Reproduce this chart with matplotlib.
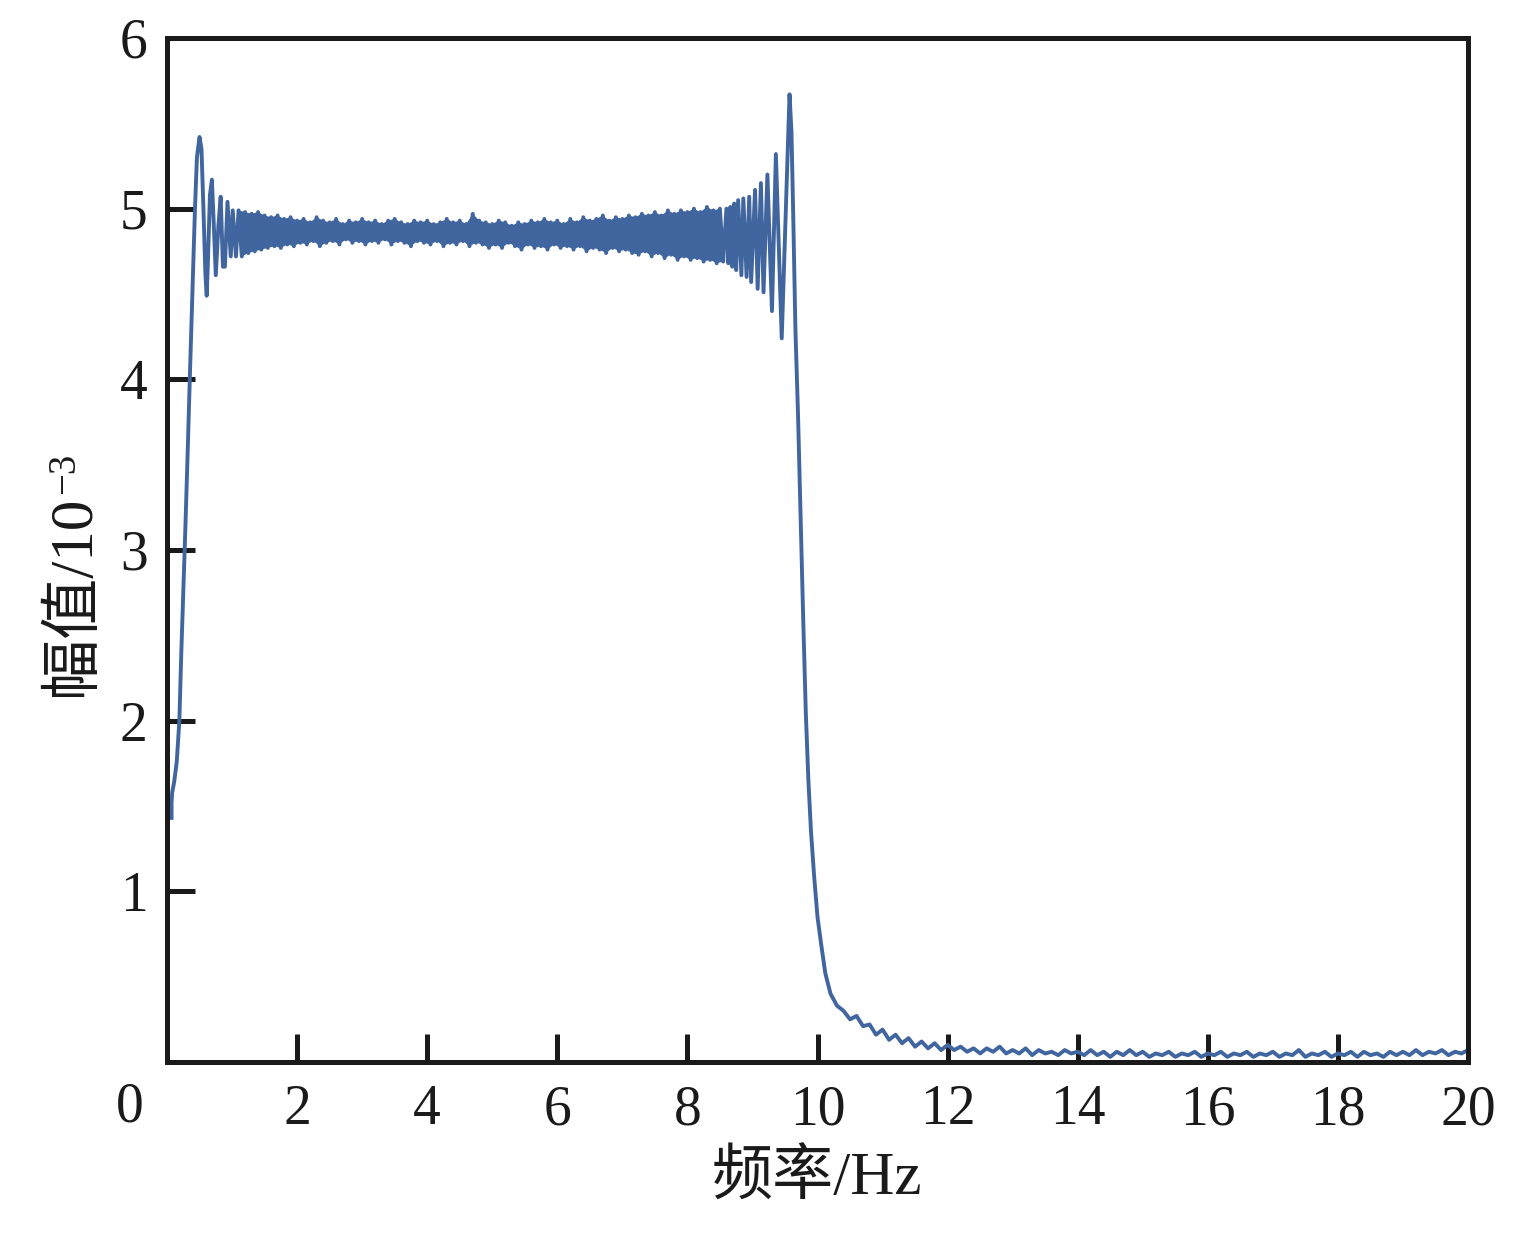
import numpy as np
import matplotlib
matplotlib.use("Agg")
import matplotlib.pyplot as plt

plt.rcParams['font.family'] = ['Liberation Serif', 'Noto Sans CJK SC', 'DejaVu Sans']

# ---- data (frequency in Hz, amplitude in 1e-3) ----
# rise and first ringing at low-frequency edge
freq_rise = [0.07, 0.07, 0.08, 0.11, 0.15, 0.19, 0.22, 0.25, 0.28, 0.32, 0.35, 0.39, 0.43,
             0.46, 0.50, 0.53, 0.56, 0.59, 0.61, 0.63, 0.66, 0.69, 0.72, 0.75, 0.79, 0.825,
             0.86, 0.89, 0.93, 0.98, 1.01, 1.06]
amp_rise = [1.43, 1.52, 1.58, 1.64, 1.76, 2.00, 2.40, 2.75, 3.10, 3.60, 4.00, 4.50, 5.00,
            5.30, 5.42, 5.35, 5.00, 4.62, 4.49, 4.70, 5.08, 5.17, 4.90, 4.61, 4.90, 5.07,
            4.66, 4.66, 5.04, 4.72, 4.99, 4.72]

# dense ripple band: upper peaks at 1.10..8.50, lower troughs at 1.15..8.55 (step 0.1)
band_upper = [4.99, 4.98, 4.97, 4.98, 4.96, 4.95, 4.96, 4.94, 4.95,
              4.93, 4.94, 4.92, 4.95, 4.93, 4.92, 4.94, 4.91, 4.93, 4.92,
              4.94, 4.92, 4.93, 4.91, 4.93, 4.94, 4.92, 4.91, 4.93, 4.92,
              4.93, 4.91, 4.92, 4.94, 4.92, 4.93, 4.91, 4.97, 4.93, 4.92,
              4.91, 4.93, 4.92, 4.90, 4.92, 4.91, 4.93, 4.92, 4.94, 4.92,
              4.93, 4.91, 4.94, 4.92, 4.95, 4.93, 4.94, 4.96, 4.93, 4.95,
              4.94, 4.96, 4.95, 4.97, 4.96, 4.98, 4.96, 4.99, 4.97, 4.99,
              4.98, 5.00, 4.98, 5.01, 4.99, 5.00]
band_lower = [4.72, 4.74, 4.75, 4.76, 4.77, 4.78, 4.77, 4.79, 4.78,
              4.80, 4.79, 4.81, 4.78, 4.80, 4.81, 4.79, 4.82, 4.80, 4.81,
              4.79, 4.81, 4.80, 4.82, 4.79, 4.81, 4.80, 4.78, 4.81, 4.80,
              4.79, 4.81, 4.78, 4.80, 4.79, 4.81, 4.78, 4.80, 4.79, 4.77,
              4.79, 4.77, 4.80, 4.78, 4.76, 4.79, 4.77, 4.78, 4.76, 4.79,
              4.77, 4.78, 4.76, 4.78, 4.75, 4.77, 4.76, 4.74, 4.77, 4.75,
              4.76, 4.74, 4.73, 4.75, 4.72, 4.74, 4.71, 4.73, 4.70, 4.72,
              4.70, 4.71, 4.69, 4.70, 4.68, 4.69]

# growing ringing at high-frequency edge, main peak and fall
freq_edge = [8.60, 8.63, 8.66, 8.69, 8.72, 8.75, 8.78, 8.83, 8.86, 8.91, 8.95, 8.98,
             9.04, 9.08, 9.13, 9.17, 9.23, 9.30, 9.36, 9.45, 9.57, 9.60, 9.63, 9.66,
             9.70, 9.74, 9.78, 9.82, 9.86, 9.90, 9.95, 10.00, 10.06, 10.12, 10.20, 10.30]
amp_edge = [5.00, 4.68, 5.01, 4.66, 5.03, 4.64, 5.05, 4.61, 5.06, 4.60, 5.07, 4.57,
            5.11, 4.53, 5.15, 4.51, 5.20, 4.40, 5.32, 4.24, 5.67, 5.45, 4.90, 4.30,
            3.80, 3.20, 2.60, 2.05, 1.65, 1.35, 1.08, 0.85, 0.68, 0.52, 0.40, 0.33]

# stop-band tail, 10.4..20.0 Hz step 0.1
amp_tail = [0.30, 0.25, 0.27, 0.21, 0.22, 0.16,
            0.19, 0.13, 0.16, 0.11, 0.14, 0.09, 0.12, 0.08, 0.11, 0.07,
            0.10, 0.07, 0.09, 0.06, 0.08, 0.05, 0.08, 0.06, 0.09, 0.05,
            0.07, 0.05, 0.08, 0.04, 0.07, 0.05, 0.06, 0.04, 0.07, 0.05,
            0.06, 0.04, 0.07, 0.04, 0.06, 0.03, 0.06, 0.04, 0.07, 0.04,
            0.06, 0.03, 0.05, 0.04, 0.06, 0.03, 0.05, 0.04, 0.06, 0.03,
            0.05, 0.04, 0.06, 0.03, 0.05, 0.04, 0.06, 0.03, 0.05, 0.04,
            0.06, 0.03, 0.05, 0.04, 0.07, 0.03, 0.05, 0.04, 0.06, 0.03,
            0.05, 0.04, 0.06, 0.03, 0.06, 0.04, 0.05, 0.03, 0.06, 0.04,
            0.06, 0.04, 0.07, 0.04, 0.06, 0.05, 0.07, 0.04, 0.06, 0.05, 0.07]

x_ticks = [0, 2, 4, 6, 8, 10, 12, 14, 16, 18, 20]
y_ticks = [1, 2, 3, 4, 5, 6]
xlabel = '频率/Hz'
ylabel_main = '幅值/10'
ylabel_exp = '\u22123'

# ---- build series ----
fu = np.round(1.10 + 0.1 * np.arange(len(band_upper)), 3)
fl = np.round(1.15 + 0.1 * np.arange(len(band_lower)), 3)
band_f = np.empty(len(fu) + len(fl)); band_f[0::2] = fu; band_f[1::2] = fl
band_a = np.empty(len(fu) + len(fl)); band_a[0::2] = band_upper; band_a[1::2] = band_lower
f_tail = np.round(10.4 + 0.1 * np.arange(len(amp_tail)), 3)

freq = np.concatenate([freq_rise, band_f, freq_edge, f_tail])
amp = np.concatenate([amp_rise, band_a, amp_edge, amp_tail])

color = '#41669f'
ink = '#1a1a1a'

fig = plt.figure(figsize=(15.30, 12.52), dpi=100)
ax = fig.add_axes([167/1530, 1 - 1062/1252, (1468-167)/1530, (1062-38)/1252])

# solid body of the dense ripple band
poly_x = np.concatenate([fu, fl[::-1]])
poly_y = np.concatenate([band_upper, band_lower[::-1]])
ax.fill(poly_x, poly_y, color=color, lw=0)
ax.plot(freq, amp, color=color, lw=2.8, solid_joinstyle='round')

ax.set_xlim(0, 20)
ax.set_ylim(0, 6)
ax.set_xticks(x_ticks)
ax.set_xticklabels([''] + [str(t) for t in x_ticks[1:]])
ax.set_yticks(y_ticks)
ax.set_yticklabels([str(t) for t in y_ticks])
ax.tick_params(direction='in', length=20, width=3.6, labelsize=40, pad=14, colors=ink)
ax.tick_params(axis='x', pad=16)
for s in ax.spines.values():
    s.set_linewidth(3.6)
    s.set_color(ink)

ax.text(-0.57, -0.019, '0', transform=ax.get_xaxis_transform(), ha='center', va='top',
        fontsize=40, color=ink)
ax.set_xlabel(xlabel, fontsize=44, labelpad=10, color=ink)
ylab = ax.set_ylabel(ylabel_main, fontsize=44, color=ink)
ax.yaxis.set_label_coords(-0.050, 0.455)

fig.canvas.draw()
bb = ylab.get_window_extent(renderer=fig.canvas.get_renderer())
fig.text(bb.x0 / fig.bbox.width, (bb.y1 + 2) / fig.bbox.height, ylabel_exp,
         rotation=90, ha='left', va='bottom', fontsize=28, color=ink)

fig.savefig('out.png', dpi=100, facecolor='white')
